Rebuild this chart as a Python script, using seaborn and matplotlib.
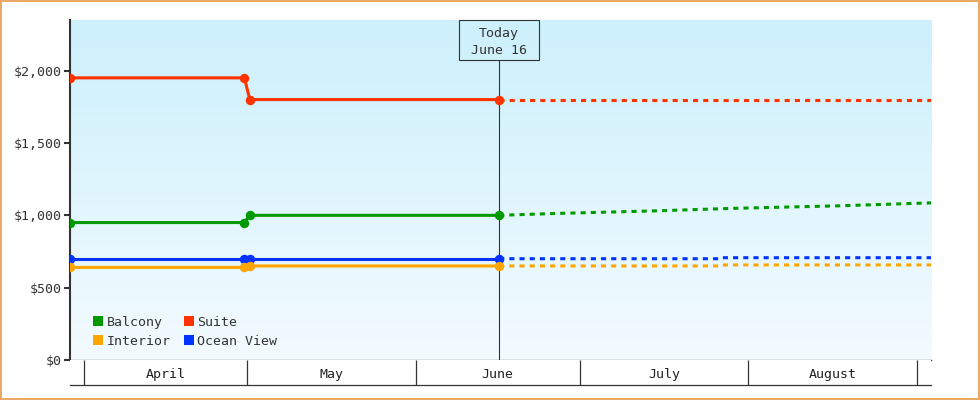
import numpy as np
import pandas as pd
import matplotlib
matplotlib.use("Agg")
import matplotlib.pyplot as plt
import matplotlib.dates as mdates
import matplotlib.transforms as mtransforms
from matplotlib.colors import LinearSegmentedColormap
from matplotlib.lines import Line2D
from matplotlib.patches import Rectangle
from matplotlib.ticker import FuncFormatter
import seaborn as sns

# room types and colours
legend_order = ["Balcony", "Interior", "Suite", "Ocean View"]
draw_order = ["Suite", "Balcony", "Ocean View", "Interior"]
colors = {"Balcony": "#009900", "Suite": "#ff3300",
          "Interior": "#ffa500", "Ocean View": "#0033ff"}

# fare history up to today
hist_dates = ["2024-03-29 12:00", "2024-04-30 12:00", "2024-05-01 12:00", "2024-06-16 06:00"]
hist_suite = [1950, 1950, 1800, 1800]
hist_balcony = [950, 950, 1000, 1000]
hist_ocean = [700, 700, 700, 700]
hist_interior = [640, 640, 650, 650]

# forecast after today
fc_suite_dates = ["2024-06-16 06:00", "2024-09-03 12:00"]
fc_suite = [1800, 1800]
fc_balcony_dates = ["2024-06-16 06:00", "2024-06-26 00:00", "2024-07-16 00:00", "2024-07-29 00:00",
                    "2024-08-18 00:00", "2024-08-31 00:00", "2024-09-03 12:00"]
fc_balcony = [1000, 1012, 1032, 1048, 1066, 1082, 1086]
fc_step_dates = ["2024-06-16 06:00", "2024-07-26 18:00", "2024-07-27 00:00", "2024-09-03 12:00"]
fc_ocean = [700, 700, 707, 707]
fc_interior = [650, 650, 657, 657]

today = "2024-06-16 06:00"
x_start, x_end = "2024-03-29 12:00", "2024-09-03 12:00"
month_names = ["April", "May", "June", "July", "August"]
month_starts = ["2024-04-01", "2024-05-01", "2024-06-01", "2024-07-01", "2024-08-01", "2024-09-01"]
y_ticks = [0, 500, 1000, 1500, 2000]


def frame(dates, values, room):
    return pd.DataFrame({"date": pd.to_datetime(dates, format="ISO8601"),
                         "price": values, "room": room})


hist = pd.concat([frame(hist_dates, hist_suite, "Suite"),
                  frame(hist_dates, hist_balcony, "Balcony"),
                  frame(hist_dates, hist_ocean, "Ocean View"),
                  frame(hist_dates, hist_interior, "Interior")], ignore_index=True)
fc = pd.concat([frame(fc_suite_dates, fc_suite, "Suite"),
                frame(fc_balcony_dates, fc_balcony, "Balcony"),
                frame(fc_step_dates, fc_ocean, "Ocean View"),
                frame(fc_step_dates, fc_interior, "Interior")], ignore_index=True)

sns.set_style("white")
plt.rcParams["font.family"] = ["DejaVu Sans Mono"]
text_color = "#333333"

fig = plt.figure(figsize=(9.8, 4), dpi=100, facecolor="white",
                 edgecolor="#eaa966", linewidth=1.6)
ax = fig.add_axes([70 / 980, 40 / 400, 861 / 980, 340 / 400])

sns.lineplot(data=fc, x="date", y="price", hue="room", hue_order=draw_order,
             palette=colors, estimator=None, sort=False, legend=False, ax=ax,
             linewidth=2.2, linestyle=(0, (5 / 3, 5 / 3)), zorder=3)
sns.lineplot(data=hist, x="date", y="price", hue="room", hue_order=draw_order,
             palette=colors, estimator=None, sort=False, legend=False, ax=ax,
             linewidth=2.2, marker="o", markersize=6.8, markeredgewidth=0, zorder=4)

# background gradient
grad = LinearSegmentedColormap.from_list("bg", ["#ccf0fc", "#f3fbff"])
ax.imshow(np.linspace(0, 1, 256).reshape(-1, 1), cmap=grad, extent=[0, 1, 0, 1],
          transform=ax.transAxes, aspect="auto", zorder=0)

xlim = (mdates.date2num(pd.Timestamp(x_start)), mdates.date2num(pd.Timestamp(x_end)))
ax.set_xlim(xlim)
ax.set_ylim(0, 2350)
ax.set_xlabel("")
ax.set_ylabel("")
ax.set_xticks([])
ax.set_xticks([], minor=True)
ax.tick_params(axis="x", which="both", length=0)
ax.set_yticks(y_ticks)
ax.yaxis.set_major_formatter(FuncFormatter(lambda v, _: f"${v:,.0f}"))
ax.tick_params(axis="y", direction="out", length=4.5, width=1.5, pad=1.5,
               colors=text_color, labelsize=9.5, left=True, right=False)
for side in ["top", "right"]:
    ax.spines[side].set_visible(False)
ax.spines["left"].set_linewidth(1.5)
ax.spines["left"].set_color(text_color)
ax.spines["bottom"].set_linewidth(0.9)
ax.spines["bottom"].set_color(text_color)

# today marker
t = mdates.date2num(pd.Timestamp(today))
box_bottom = 300 / 340
ax.axvline(t, ymin=0, ymax=box_bottom, color=text_color, lw=0.8, zorder=2)
blend = mtransforms.blended_transform_factory(ax.transData, ax.transAxes)
ax.add_patch(Rectangle((t - 7.34, box_bottom), 14.68, 1 - box_bottom, transform=blend,
                       fill=False, ec=text_color, lw=0.8, clip_on=False, zorder=5))
ax.text(t, (box_bottom + 1) / 2 - 0.006, "Today\nJune 16", transform=blend, ha="center",
        va="center", fontsize=9.5, color=text_color, linespacing=1.4, zorder=5)

# legend
handles = [Line2D([], [], marker="s", ls="none", color=colors[r], markersize=7.2,
                  markeredgewidth=0) for r in legend_order]
ax.legend(handles, legend_order, ncol=2, loc="lower left",
          bbox_to_anchor=((93 - 70) / 861, 0.035), frameon=False, borderpad=0,
          borderaxespad=0, handlelength=0.8, handletextpad=0.25, columnspacing=0.95,
          labelspacing=0.5, fontsize=9.5, labelcolor=text_color)

# month strip under the plot
ax2 = fig.add_axes([70 / 980, 15 / 400, 861 / 980, 25 / 400])
ax2.set_facecolor("white")
ax2.set_xlim(xlim)
ax2.set_ylim(0, 1)
ax2.set_xticks([])
ax2.set_yticks([])
for side in ["top", "left", "right"]:
    ax2.spines[side].set_visible(False)
ax2.spines["bottom"].set_linewidth(0.9)
ax2.spines["bottom"].set_color(text_color)
starts = [mdates.date2num(pd.Timestamp(d)) for d in month_starts]
ax2.vlines(starts, 0, 1, color=text_color, lw=0.9)
for name, a, b in zip(month_names, starts[:-1], starts[1:]):
    ax2.text((a + b) / 2, 0.29, name, ha="center", va="baseline", fontsize=9.5, color="#222222")

fig.savefig("out.png", dpi=100)
